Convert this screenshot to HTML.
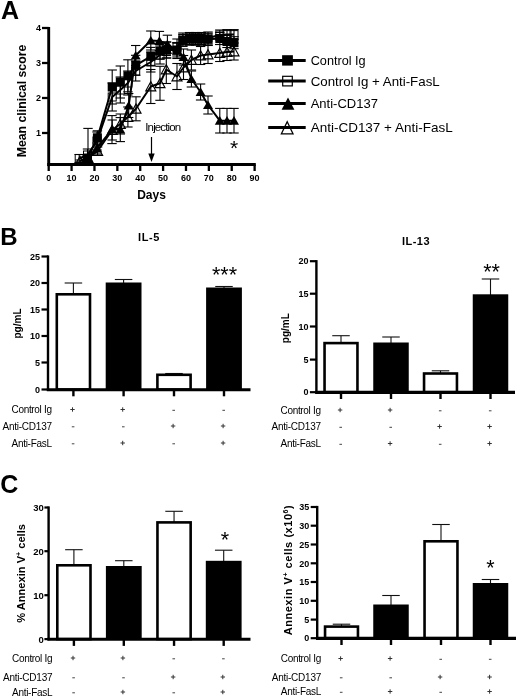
<!DOCTYPE html>
<html><head><meta charset="utf-8"><title>Figure</title>
<style>
html,body{margin:0;padding:0;background:#fff;}
svg{display:block;font-family:"Liberation Sans", Arial, Helvetica, sans-serif;fill:#000;}
</style></head><body>
<svg width="520" height="697" viewBox="0 0 520 697">
<rect width="520" height="697" fill="#fff"/>
<text x="1" y="19.4" font-size="25" font-weight="bold">A</text>
<line x1="48.7" y1="27" x2="48.7" y2="166.1" stroke="#000" stroke-width="2.9" stroke-linecap="butt"/>
<line x1="47.25" y1="164.6" x2="255.8" y2="164.6" stroke="#000" stroke-width="3" stroke-linecap="butt"/>
<line x1="42" y1="28" x2="48.7" y2="28" stroke="#000" stroke-width="2.3" stroke-linecap="butt"/>
<text x="41" y="31.2" font-size="9" font-weight="bold" text-anchor="end">4</text>
<line x1="42" y1="63" x2="48.7" y2="63" stroke="#000" stroke-width="2.3" stroke-linecap="butt"/>
<text x="41" y="66.2" font-size="9" font-weight="bold" text-anchor="end">3</text>
<line x1="42" y1="98" x2="48.7" y2="98" stroke="#000" stroke-width="2.3" stroke-linecap="butt"/>
<text x="41" y="101.2" font-size="9" font-weight="bold" text-anchor="end">2</text>
<line x1="42" y1="133" x2="48.7" y2="133" stroke="#000" stroke-width="2.3" stroke-linecap="butt"/>
<text x="41" y="136.2" font-size="9" font-weight="bold" text-anchor="end">1</text>
<line x1="48.7" y1="164.6" x2="48.7" y2="171" stroke="#000" stroke-width="2.3" stroke-linecap="butt"/>
<text x="48.7" y="180.7" font-size="9" font-weight="bold" text-anchor="middle">0</text>
<line x1="71.58" y1="164.6" x2="71.58" y2="171" stroke="#000" stroke-width="2.3" stroke-linecap="butt"/>
<text x="71.58" y="180.7" font-size="9" font-weight="bold" text-anchor="middle">10</text>
<line x1="94.46000000000001" y1="164.6" x2="94.46000000000001" y2="171" stroke="#000" stroke-width="2.3" stroke-linecap="butt"/>
<text x="94.46000000000001" y="180.7" font-size="9" font-weight="bold" text-anchor="middle">20</text>
<line x1="117.34" y1="164.6" x2="117.34" y2="171" stroke="#000" stroke-width="2.3" stroke-linecap="butt"/>
<text x="117.34" y="180.7" font-size="9" font-weight="bold" text-anchor="middle">30</text>
<line x1="140.22" y1="164.6" x2="140.22" y2="171" stroke="#000" stroke-width="2.3" stroke-linecap="butt"/>
<text x="140.22" y="180.7" font-size="9" font-weight="bold" text-anchor="middle">40</text>
<line x1="163.1" y1="164.6" x2="163.1" y2="171" stroke="#000" stroke-width="2.3" stroke-linecap="butt"/>
<text x="163.1" y="180.7" font-size="9" font-weight="bold" text-anchor="middle">50</text>
<line x1="185.98000000000002" y1="164.6" x2="185.98000000000002" y2="171" stroke="#000" stroke-width="2.3" stroke-linecap="butt"/>
<text x="185.98000000000002" y="180.7" font-size="9" font-weight="bold" text-anchor="middle">60</text>
<line x1="208.86" y1="164.6" x2="208.86" y2="171" stroke="#000" stroke-width="2.3" stroke-linecap="butt"/>
<text x="208.86" y="180.7" font-size="9" font-weight="bold" text-anchor="middle">70</text>
<line x1="231.74" y1="164.6" x2="231.74" y2="171" stroke="#000" stroke-width="2.3" stroke-linecap="butt"/>
<text x="231.74" y="180.7" font-size="9" font-weight="bold" text-anchor="middle">80</text>
<line x1="254.62" y1="164.6" x2="254.62" y2="171" stroke="#000" stroke-width="2.3" stroke-linecap="butt"/>
<text x="254.62" y="180.7" font-size="9" font-weight="bold" text-anchor="middle">90</text>
<text x="151.5" y="199" font-size="12" font-weight="bold" text-anchor="middle">Days</text>
<text x="25.5" y="101" font-size="12" font-weight="bold" text-anchor="middle" textLength="112.5" lengthAdjust="spacingAndGlyphs" transform="rotate(-90 25.5 101)">Mean clinical score</text>
<line x1="80" y1="160" x2="80" y2="162" stroke="#000" stroke-width="1.1" stroke-linecap="butt"/>
<line x1="75.3" y1="160" x2="84.7" y2="160" stroke="#000" stroke-width="1.1" stroke-linecap="butt"/>
<line x1="75.3" y1="162" x2="84.7" y2="162" stroke="#000" stroke-width="1.1" stroke-linecap="butt"/>
<line x1="88" y1="128.4" x2="88" y2="163.1" stroke="#000" stroke-width="1.1" stroke-linecap="butt"/>
<line x1="83.3" y1="128.4" x2="92.7" y2="128.4" stroke="#000" stroke-width="1.1" stroke-linecap="butt"/>
<line x1="97.6" y1="147" x2="97.6" y2="155" stroke="#000" stroke-width="1.1" stroke-linecap="butt"/>
<line x1="92.89999999999999" y1="147" x2="102.3" y2="147" stroke="#000" stroke-width="1.1" stroke-linecap="butt"/>
<line x1="92.89999999999999" y1="155" x2="102.3" y2="155" stroke="#000" stroke-width="1.1" stroke-linecap="butt"/>
<line x1="112.2" y1="120" x2="112.2" y2="140" stroke="#000" stroke-width="1.1" stroke-linecap="butt"/>
<line x1="107.5" y1="120" x2="116.9" y2="120" stroke="#000" stroke-width="1.1" stroke-linecap="butt"/>
<line x1="107.5" y1="140" x2="116.9" y2="140" stroke="#000" stroke-width="1.1" stroke-linecap="butt"/>
<line x1="120.3" y1="114" x2="120.3" y2="134" stroke="#000" stroke-width="1.1" stroke-linecap="butt"/>
<line x1="115.6" y1="114" x2="125.0" y2="114" stroke="#000" stroke-width="1.1" stroke-linecap="butt"/>
<line x1="115.6" y1="134" x2="125.0" y2="134" stroke="#000" stroke-width="1.1" stroke-linecap="butt"/>
<line x1="127.9" y1="107" x2="127.9" y2="127" stroke="#000" stroke-width="1.1" stroke-linecap="butt"/>
<line x1="123.2" y1="107" x2="132.6" y2="107" stroke="#000" stroke-width="1.1" stroke-linecap="butt"/>
<line x1="123.2" y1="127" x2="132.6" y2="127" stroke="#000" stroke-width="1.1" stroke-linecap="butt"/>
<line x1="136" y1="96.8" x2="136" y2="120.8" stroke="#000" stroke-width="1.1" stroke-linecap="butt"/>
<line x1="131.3" y1="96.8" x2="140.7" y2="96.8" stroke="#000" stroke-width="1.1" stroke-linecap="butt"/>
<line x1="131.3" y1="120.8" x2="140.7" y2="120.8" stroke="#000" stroke-width="1.1" stroke-linecap="butt"/>
<line x1="150.8" y1="69.5" x2="150.8" y2="103.5" stroke="#000" stroke-width="1.1" stroke-linecap="butt"/>
<line x1="146.10000000000002" y1="69.5" x2="155.5" y2="69.5" stroke="#000" stroke-width="1.1" stroke-linecap="butt"/>
<line x1="146.10000000000002" y1="103.5" x2="155.5" y2="103.5" stroke="#000" stroke-width="1.1" stroke-linecap="butt"/>
<line x1="160" y1="66.3" x2="160" y2="100.3" stroke="#000" stroke-width="1.1" stroke-linecap="butt"/>
<line x1="155.3" y1="66.3" x2="164.7" y2="66.3" stroke="#000" stroke-width="1.1" stroke-linecap="butt"/>
<line x1="155.3" y1="100.3" x2="164.7" y2="100.3" stroke="#000" stroke-width="1.1" stroke-linecap="butt"/>
<line x1="166.3" y1="55.5" x2="166.3" y2="83.5" stroke="#000" stroke-width="1.1" stroke-linecap="butt"/>
<line x1="161.60000000000002" y1="55.5" x2="171.0" y2="55.5" stroke="#000" stroke-width="1.1" stroke-linecap="butt"/>
<line x1="161.60000000000002" y1="83.5" x2="171.0" y2="83.5" stroke="#000" stroke-width="1.1" stroke-linecap="butt"/>
<line x1="177" y1="63.5" x2="177" y2="89.5" stroke="#000" stroke-width="1.1" stroke-linecap="butt"/>
<line x1="172.3" y1="63.5" x2="181.7" y2="63.5" stroke="#000" stroke-width="1.1" stroke-linecap="butt"/>
<line x1="172.3" y1="89.5" x2="181.7" y2="89.5" stroke="#000" stroke-width="1.1" stroke-linecap="butt"/>
<line x1="183.5" y1="55.5" x2="183.5" y2="79.5" stroke="#000" stroke-width="1.1" stroke-linecap="butt"/>
<line x1="178.8" y1="55.5" x2="188.2" y2="55.5" stroke="#000" stroke-width="1.1" stroke-linecap="butt"/>
<line x1="178.8" y1="79.5" x2="188.2" y2="79.5" stroke="#000" stroke-width="1.1" stroke-linecap="butt"/>
<line x1="191.4" y1="50" x2="191.4" y2="70" stroke="#000" stroke-width="1.1" stroke-linecap="butt"/>
<line x1="186.70000000000002" y1="50" x2="196.1" y2="50" stroke="#000" stroke-width="1.1" stroke-linecap="butt"/>
<line x1="186.70000000000002" y1="70" x2="196.1" y2="70" stroke="#000" stroke-width="1.1" stroke-linecap="butt"/>
<line x1="200.6" y1="46.5" x2="200.6" y2="64.5" stroke="#000" stroke-width="1.1" stroke-linecap="butt"/>
<line x1="195.9" y1="46.5" x2="205.29999999999998" y2="46.5" stroke="#000" stroke-width="1.1" stroke-linecap="butt"/>
<line x1="195.9" y1="64.5" x2="205.29999999999998" y2="64.5" stroke="#000" stroke-width="1.1" stroke-linecap="butt"/>
<line x1="208" y1="45.5" x2="208" y2="63.5" stroke="#000" stroke-width="1.1" stroke-linecap="butt"/>
<line x1="203.3" y1="45.5" x2="212.7" y2="45.5" stroke="#000" stroke-width="1.1" stroke-linecap="butt"/>
<line x1="203.3" y1="63.5" x2="212.7" y2="63.5" stroke="#000" stroke-width="1.1" stroke-linecap="butt"/>
<line x1="219.8" y1="44.5" x2="219.8" y2="61.5" stroke="#000" stroke-width="1.1" stroke-linecap="butt"/>
<line x1="215.10000000000002" y1="44.5" x2="224.5" y2="44.5" stroke="#000" stroke-width="1.1" stroke-linecap="butt"/>
<line x1="215.10000000000002" y1="61.5" x2="224.5" y2="61.5" stroke="#000" stroke-width="1.1" stroke-linecap="butt"/>
<line x1="227" y1="43.5" x2="227" y2="60.5" stroke="#000" stroke-width="1.1" stroke-linecap="butt"/>
<line x1="222.3" y1="43.5" x2="231.7" y2="43.5" stroke="#000" stroke-width="1.1" stroke-linecap="butt"/>
<line x1="222.3" y1="60.5" x2="231.7" y2="60.5" stroke="#000" stroke-width="1.1" stroke-linecap="butt"/>
<line x1="234" y1="43.0" x2="234" y2="60.0" stroke="#000" stroke-width="1.1" stroke-linecap="butt"/>
<line x1="229.3" y1="43.0" x2="238.7" y2="43.0" stroke="#000" stroke-width="1.1" stroke-linecap="butt"/>
<line x1="229.3" y1="60.0" x2="238.7" y2="60.0" stroke="#000" stroke-width="1.1" stroke-linecap="butt"/>
<path d="M80,161 L88,158 L97.6,151 L112.2,130 L120.3,124 L127.9,117 L136,108.8 L150.8,86.5 L160,83.3 L166.3,69.5 L177,76.5 L183.5,67.5 L191.4,60 L200.6,55.5 L208,54.5 L219.8,53 L227,52 L234,51.5" fill="none" stroke="#000" stroke-width="2" stroke-linejoin="round"/>
<path d="M80,156.20000000000002 L85,165.3 L75,165.3Z" fill="none" stroke="#000" stroke-width="1.15"/>
<path d="M88,153.20000000000002 L93,162.3 L83,162.3Z" fill="none" stroke="#000" stroke-width="1.15"/>
<path d="M97.6,146.20000000000002 L102.6,155.3 L92.6,155.3Z" fill="none" stroke="#000" stroke-width="1.15"/>
<path d="M112.2,125.2 L117.2,134.3 L107.2,134.3Z" fill="none" stroke="#000" stroke-width="1.15"/>
<path d="M120.3,119.2 L125.3,128.3 L115.3,128.3Z" fill="none" stroke="#000" stroke-width="1.15"/>
<path d="M127.9,112.2 L132.9,121.3 L122.9,121.3Z" fill="none" stroke="#000" stroke-width="1.15"/>
<path d="M136,104.0 L141,113.1 L131,113.1Z" fill="none" stroke="#000" stroke-width="1.15"/>
<path d="M150.8,81.7 L155.8,90.8 L145.8,90.8Z" fill="none" stroke="#000" stroke-width="1.15"/>
<path d="M160,78.5 L165,87.6 L155,87.6Z" fill="none" stroke="#000" stroke-width="1.15"/>
<path d="M166.3,64.7 L171.3,73.8 L161.3,73.8Z" fill="none" stroke="#000" stroke-width="1.15"/>
<path d="M177,71.7 L182,80.8 L172,80.8Z" fill="none" stroke="#000" stroke-width="1.15"/>
<path d="M183.5,62.699999999999996 L188.5,71.8 L178.5,71.8Z" fill="none" stroke="#000" stroke-width="1.15"/>
<path d="M191.4,55.199999999999996 L196.4,64.3 L186.4,64.3Z" fill="none" stroke="#000" stroke-width="1.15"/>
<path d="M200.6,50.699999999999996 L205.6,59.8 L195.6,59.8Z" fill="none" stroke="#000" stroke-width="1.15"/>
<path d="M208,49.699999999999996 L213,58.8 L203,58.8Z" fill="none" stroke="#000" stroke-width="1.15"/>
<path d="M219.8,48.199999999999996 L224.8,57.3 L214.8,57.3Z" fill="none" stroke="#000" stroke-width="1.15"/>
<path d="M227,47.199999999999996 L232,56.3 L222,56.3Z" fill="none" stroke="#000" stroke-width="1.15"/>
<path d="M234,46.699999999999996 L239,55.8 L229,55.8Z" fill="none" stroke="#000" stroke-width="1.15"/>
<line x1="79.2" y1="154.5" x2="79.2" y2="162.5" stroke="#000" stroke-width="1.1" stroke-linecap="butt"/>
<line x1="74.5" y1="154.5" x2="83.9" y2="154.5" stroke="#000" stroke-width="1.1" stroke-linecap="butt"/>
<line x1="74.5" y1="162.5" x2="83.9" y2="162.5" stroke="#000" stroke-width="1.1" stroke-linecap="butt"/>
<line x1="87.5" y1="149" x2="87.5" y2="161" stroke="#000" stroke-width="1.1" stroke-linecap="butt"/>
<line x1="82.8" y1="149" x2="92.2" y2="149" stroke="#000" stroke-width="1.1" stroke-linecap="butt"/>
<line x1="82.8" y1="161" x2="92.2" y2="161" stroke="#000" stroke-width="1.1" stroke-linecap="butt"/>
<line x1="97" y1="132" x2="97" y2="150" stroke="#000" stroke-width="1.1" stroke-linecap="butt"/>
<line x1="92.3" y1="132" x2="101.7" y2="132" stroke="#000" stroke-width="1.1" stroke-linecap="butt"/>
<line x1="92.3" y1="150" x2="101.7" y2="150" stroke="#000" stroke-width="1.1" stroke-linecap="butt"/>
<line x1="112.2" y1="83" x2="112.2" y2="111" stroke="#000" stroke-width="1.1" stroke-linecap="butt"/>
<line x1="107.5" y1="83" x2="116.9" y2="83" stroke="#000" stroke-width="1.1" stroke-linecap="butt"/>
<line x1="107.5" y1="111" x2="116.9" y2="111" stroke="#000" stroke-width="1.1" stroke-linecap="butt"/>
<line x1="120.3" y1="77" x2="120.3" y2="103" stroke="#000" stroke-width="1.1" stroke-linecap="butt"/>
<line x1="115.6" y1="77" x2="125.0" y2="77" stroke="#000" stroke-width="1.1" stroke-linecap="butt"/>
<line x1="115.6" y1="103" x2="125.0" y2="103" stroke="#000" stroke-width="1.1" stroke-linecap="butt"/>
<line x1="127.9" y1="71" x2="127.9" y2="95" stroke="#000" stroke-width="1.1" stroke-linecap="butt"/>
<line x1="123.2" y1="71" x2="132.6" y2="71" stroke="#000" stroke-width="1.1" stroke-linecap="butt"/>
<line x1="123.2" y1="95" x2="132.6" y2="95" stroke="#000" stroke-width="1.1" stroke-linecap="butt"/>
<line x1="135.7" y1="61" x2="135.7" y2="81" stroke="#000" stroke-width="1.1" stroke-linecap="butt"/>
<line x1="131.0" y1="61" x2="140.39999999999998" y2="61" stroke="#000" stroke-width="1.1" stroke-linecap="butt"/>
<line x1="131.0" y1="81" x2="140.39999999999998" y2="81" stroke="#000" stroke-width="1.1" stroke-linecap="butt"/>
<line x1="150.8" y1="52" x2="150.8" y2="72" stroke="#000" stroke-width="1.1" stroke-linecap="butt"/>
<line x1="146.10000000000002" y1="52" x2="155.5" y2="52" stroke="#000" stroke-width="1.1" stroke-linecap="butt"/>
<line x1="146.10000000000002" y1="72" x2="155.5" y2="72" stroke="#000" stroke-width="1.1" stroke-linecap="butt"/>
<line x1="160" y1="46" x2="160" y2="64" stroke="#000" stroke-width="1.1" stroke-linecap="butt"/>
<line x1="155.3" y1="46" x2="164.7" y2="46" stroke="#000" stroke-width="1.1" stroke-linecap="butt"/>
<line x1="155.3" y1="64" x2="164.7" y2="64" stroke="#000" stroke-width="1.1" stroke-linecap="butt"/>
<line x1="166.5" y1="42" x2="166.5" y2="58" stroke="#000" stroke-width="1.1" stroke-linecap="butt"/>
<line x1="161.8" y1="42" x2="171.2" y2="42" stroke="#000" stroke-width="1.1" stroke-linecap="butt"/>
<line x1="161.8" y1="58" x2="171.2" y2="58" stroke="#000" stroke-width="1.1" stroke-linecap="butt"/>
<line x1="177" y1="39" x2="177" y2="55" stroke="#000" stroke-width="1.1" stroke-linecap="butt"/>
<line x1="172.3" y1="39" x2="181.7" y2="39" stroke="#000" stroke-width="1.1" stroke-linecap="butt"/>
<line x1="172.3" y1="55" x2="181.7" y2="55" stroke="#000" stroke-width="1.1" stroke-linecap="butt"/>
<line x1="182.9" y1="33" x2="182.9" y2="45" stroke="#000" stroke-width="1.1" stroke-linecap="butt"/>
<line x1="178.20000000000002" y1="33" x2="187.6" y2="33" stroke="#000" stroke-width="1.1" stroke-linecap="butt"/>
<line x1="178.20000000000002" y1="45" x2="187.6" y2="45" stroke="#000" stroke-width="1.1" stroke-linecap="butt"/>
<line x1="189.6" y1="32.5" x2="189.6" y2="44.5" stroke="#000" stroke-width="1.1" stroke-linecap="butt"/>
<line x1="184.9" y1="32.5" x2="194.29999999999998" y2="32.5" stroke="#000" stroke-width="1.1" stroke-linecap="butt"/>
<line x1="184.9" y1="44.5" x2="194.29999999999998" y2="44.5" stroke="#000" stroke-width="1.1" stroke-linecap="butt"/>
<line x1="195.4" y1="32.5" x2="195.4" y2="44.5" stroke="#000" stroke-width="1.1" stroke-linecap="butt"/>
<line x1="190.70000000000002" y1="32.5" x2="200.1" y2="32.5" stroke="#000" stroke-width="1.1" stroke-linecap="butt"/>
<line x1="190.70000000000002" y1="44.5" x2="200.1" y2="44.5" stroke="#000" stroke-width="1.1" stroke-linecap="butt"/>
<line x1="201.2" y1="32.5" x2="201.2" y2="44.5" stroke="#000" stroke-width="1.1" stroke-linecap="butt"/>
<line x1="196.5" y1="32.5" x2="205.89999999999998" y2="32.5" stroke="#000" stroke-width="1.1" stroke-linecap="butt"/>
<line x1="196.5" y1="44.5" x2="205.89999999999998" y2="44.5" stroke="#000" stroke-width="1.1" stroke-linecap="butt"/>
<line x1="208" y1="32" x2="208" y2="44" stroke="#000" stroke-width="1.1" stroke-linecap="butt"/>
<line x1="203.3" y1="32" x2="212.7" y2="32" stroke="#000" stroke-width="1.1" stroke-linecap="butt"/>
<line x1="203.3" y1="44" x2="212.7" y2="44" stroke="#000" stroke-width="1.1" stroke-linecap="butt"/>
<line x1="219.8" y1="30" x2="219.8" y2="40" stroke="#000" stroke-width="1.1" stroke-linecap="butt"/>
<line x1="215.10000000000002" y1="30" x2="224.5" y2="30" stroke="#000" stroke-width="1.1" stroke-linecap="butt"/>
<line x1="215.10000000000002" y1="40" x2="224.5" y2="40" stroke="#000" stroke-width="1.1" stroke-linecap="butt"/>
<line x1="227" y1="29.6" x2="227" y2="39.6" stroke="#000" stroke-width="1.1" stroke-linecap="butt"/>
<line x1="222.3" y1="29.6" x2="231.7" y2="29.6" stroke="#000" stroke-width="1.1" stroke-linecap="butt"/>
<line x1="222.3" y1="39.6" x2="231.7" y2="39.6" stroke="#000" stroke-width="1.1" stroke-linecap="butt"/>
<line x1="234" y1="29.6" x2="234" y2="39.6" stroke="#000" stroke-width="1.1" stroke-linecap="butt"/>
<line x1="229.3" y1="29.6" x2="238.7" y2="29.6" stroke="#000" stroke-width="1.1" stroke-linecap="butt"/>
<line x1="229.3" y1="39.6" x2="238.7" y2="39.6" stroke="#000" stroke-width="1.1" stroke-linecap="butt"/>
<path d="M79.2,158.5 L87.5,155 L97,141 L112.2,97 L120.3,90 L127.9,83 L135.7,71 L150.8,62 L160,55 L166.5,50 L177,47 L182.9,39 L189.6,38.5 L195.4,38.5 L201.2,38.5 L208,38 L219.8,35 L227,34.6 L234,34.6" fill="none" stroke="#000" stroke-width="2" stroke-linejoin="round"/>
<rect x="75.2" y="154.5" width="8.0" height="8.0" fill="none" stroke="#000" stroke-width="1"/>
<rect x="83.5" y="151.0" width="8.0" height="8.0" fill="none" stroke="#000" stroke-width="1"/>
<rect x="93.0" y="137.0" width="8.0" height="8.0" fill="none" stroke="#000" stroke-width="1"/>
<rect x="108.2" y="93.0" width="8.0" height="8.0" fill="none" stroke="#000" stroke-width="1"/>
<rect x="116.3" y="86.0" width="8.0" height="8.0" fill="none" stroke="#000" stroke-width="1"/>
<rect x="123.9" y="79.0" width="8.0" height="8.0" fill="none" stroke="#000" stroke-width="1"/>
<rect x="131.7" y="67.0" width="8.0" height="8.0" fill="none" stroke="#000" stroke-width="1"/>
<rect x="146.8" y="58.0" width="8.0" height="8.0" fill="none" stroke="#000" stroke-width="1"/>
<rect x="156.0" y="51.0" width="8.0" height="8.0" fill="none" stroke="#000" stroke-width="1"/>
<rect x="162.5" y="46.0" width="8.0" height="8.0" fill="none" stroke="#000" stroke-width="1"/>
<rect x="173.0" y="43.0" width="8.0" height="8.0" fill="none" stroke="#000" stroke-width="1"/>
<rect x="178.9" y="35.0" width="8.0" height="8.0" fill="none" stroke="#000" stroke-width="1"/>
<rect x="185.6" y="34.5" width="8.0" height="8.0" fill="none" stroke="#000" stroke-width="1"/>
<rect x="191.4" y="34.5" width="8.0" height="8.0" fill="none" stroke="#000" stroke-width="1"/>
<rect x="197.2" y="34.5" width="8.0" height="8.0" fill="none" stroke="#000" stroke-width="1"/>
<rect x="204.0" y="34.0" width="8.0" height="8.0" fill="none" stroke="#000" stroke-width="1"/>
<rect x="215.8" y="31.0" width="8.0" height="8.0" fill="none" stroke="#000" stroke-width="1"/>
<rect x="223.0" y="30.6" width="8.0" height="8.0" fill="none" stroke="#000" stroke-width="1"/>
<rect x="230.0" y="30.6" width="8.0" height="8.0" fill="none" stroke="#000" stroke-width="1"/>
<line x1="87.5" y1="155.5" x2="87.5" y2="161.5" stroke="#000" stroke-width="1.1" stroke-linecap="butt"/>
<line x1="82.8" y1="155.5" x2="92.2" y2="155.5" stroke="#000" stroke-width="1.1" stroke-linecap="butt"/>
<line x1="82.8" y1="161.5" x2="92.2" y2="161.5" stroke="#000" stroke-width="1.1" stroke-linecap="butt"/>
<line x1="97" y1="143" x2="97" y2="153" stroke="#000" stroke-width="1.1" stroke-linecap="butt"/>
<line x1="92.3" y1="143" x2="101.7" y2="143" stroke="#000" stroke-width="1.1" stroke-linecap="butt"/>
<line x1="92.3" y1="153" x2="101.7" y2="153" stroke="#000" stroke-width="1.1" stroke-linecap="butt"/>
<line x1="112" y1="115.6" x2="112" y2="143.6" stroke="#000" stroke-width="1.1" stroke-linecap="butt"/>
<line x1="107.3" y1="115.6" x2="116.7" y2="115.6" stroke="#000" stroke-width="1.1" stroke-linecap="butt"/>
<line x1="107.3" y1="143.6" x2="116.7" y2="143.6" stroke="#000" stroke-width="1.1" stroke-linecap="butt"/>
<line x1="120.3" y1="117.6" x2="120.3" y2="141.6" stroke="#000" stroke-width="1.1" stroke-linecap="butt"/>
<line x1="115.6" y1="117.6" x2="125.0" y2="117.6" stroke="#000" stroke-width="1.1" stroke-linecap="butt"/>
<line x1="115.6" y1="141.6" x2="125.0" y2="141.6" stroke="#000" stroke-width="1.1" stroke-linecap="butt"/>
<line x1="128.7" y1="93.5" x2="128.7" y2="117.5" stroke="#000" stroke-width="1.1" stroke-linecap="butt"/>
<line x1="123.99999999999999" y1="93.5" x2="133.39999999999998" y2="93.5" stroke="#000" stroke-width="1.1" stroke-linecap="butt"/>
<line x1="123.99999999999999" y1="117.5" x2="133.39999999999998" y2="117.5" stroke="#000" stroke-width="1.1" stroke-linecap="butt"/>
<line x1="135.7" y1="45.5" x2="135.7" y2="65.5" stroke="#000" stroke-width="1.1" stroke-linecap="butt"/>
<line x1="131.0" y1="45.5" x2="140.39999999999998" y2="45.5" stroke="#000" stroke-width="1.1" stroke-linecap="butt"/>
<line x1="131.0" y1="65.5" x2="140.39999999999998" y2="65.5" stroke="#000" stroke-width="1.1" stroke-linecap="butt"/>
<line x1="150.8" y1="31.0" x2="150.8" y2="50.0" stroke="#000" stroke-width="1.1" stroke-linecap="butt"/>
<line x1="146.10000000000002" y1="31.0" x2="155.5" y2="31.0" stroke="#000" stroke-width="1.1" stroke-linecap="butt"/>
<line x1="146.10000000000002" y1="50.0" x2="155.5" y2="50.0" stroke="#000" stroke-width="1.1" stroke-linecap="butt"/>
<line x1="159.4" y1="31.4" x2="159.4" y2="50.4" stroke="#000" stroke-width="1.1" stroke-linecap="butt"/>
<line x1="154.70000000000002" y1="31.4" x2="164.1" y2="31.4" stroke="#000" stroke-width="1.1" stroke-linecap="butt"/>
<line x1="154.70000000000002" y1="50.4" x2="164.1" y2="50.4" stroke="#000" stroke-width="1.1" stroke-linecap="butt"/>
<line x1="167.4" y1="35.2" x2="167.4" y2="53.2" stroke="#000" stroke-width="1.1" stroke-linecap="butt"/>
<line x1="162.70000000000002" y1="35.2" x2="172.1" y2="35.2" stroke="#000" stroke-width="1.1" stroke-linecap="butt"/>
<line x1="162.70000000000002" y1="53.2" x2="172.1" y2="53.2" stroke="#000" stroke-width="1.1" stroke-linecap="butt"/>
<line x1="177" y1="42.5" x2="177" y2="58.5" stroke="#000" stroke-width="1.1" stroke-linecap="butt"/>
<line x1="172.3" y1="42.5" x2="181.7" y2="42.5" stroke="#000" stroke-width="1.1" stroke-linecap="butt"/>
<line x1="172.3" y1="58.5" x2="181.7" y2="58.5" stroke="#000" stroke-width="1.1" stroke-linecap="butt"/>
<line x1="183.5" y1="49" x2="183.5" y2="65" stroke="#000" stroke-width="1.1" stroke-linecap="butt"/>
<line x1="178.8" y1="49" x2="188.2" y2="49" stroke="#000" stroke-width="1.1" stroke-linecap="butt"/>
<line x1="178.8" y1="65" x2="188.2" y2="65" stroke="#000" stroke-width="1.1" stroke-linecap="butt"/>
<line x1="191.4" y1="71" x2="191.4" y2="87" stroke="#000" stroke-width="1.1" stroke-linecap="butt"/>
<line x1="186.70000000000002" y1="71" x2="196.1" y2="71" stroke="#000" stroke-width="1.1" stroke-linecap="butt"/>
<line x1="186.70000000000002" y1="87" x2="196.1" y2="87" stroke="#000" stroke-width="1.1" stroke-linecap="butt"/>
<line x1="200.6" y1="84" x2="200.6" y2="100" stroke="#000" stroke-width="1.1" stroke-linecap="butt"/>
<line x1="195.9" y1="84" x2="205.29999999999998" y2="84" stroke="#000" stroke-width="1.1" stroke-linecap="butt"/>
<line x1="195.9" y1="100" x2="205.29999999999998" y2="100" stroke="#000" stroke-width="1.1" stroke-linecap="butt"/>
<line x1="208" y1="96" x2="208" y2="114" stroke="#000" stroke-width="1.1" stroke-linecap="butt"/>
<line x1="203.3" y1="96" x2="212.7" y2="96" stroke="#000" stroke-width="1.1" stroke-linecap="butt"/>
<line x1="203.3" y1="114" x2="212.7" y2="114" stroke="#000" stroke-width="1.1" stroke-linecap="butt"/>
<line x1="219.8" y1="108.4" x2="219.8" y2="133.0" stroke="#000" stroke-width="1.1" stroke-linecap="butt"/>
<line x1="215.10000000000002" y1="108.4" x2="224.5" y2="108.4" stroke="#000" stroke-width="1.1" stroke-linecap="butt"/>
<line x1="215.10000000000002" y1="133.0" x2="224.5" y2="133.0" stroke="#000" stroke-width="1.1" stroke-linecap="butt"/>
<line x1="227" y1="108.4" x2="227" y2="133.0" stroke="#000" stroke-width="1.1" stroke-linecap="butt"/>
<line x1="222.3" y1="108.4" x2="231.7" y2="108.4" stroke="#000" stroke-width="1.1" stroke-linecap="butt"/>
<line x1="222.3" y1="133.0" x2="231.7" y2="133.0" stroke="#000" stroke-width="1.1" stroke-linecap="butt"/>
<line x1="234" y1="108.4" x2="234" y2="133.0" stroke="#000" stroke-width="1.1" stroke-linecap="butt"/>
<line x1="229.3" y1="108.4" x2="238.7" y2="108.4" stroke="#000" stroke-width="1.1" stroke-linecap="butt"/>
<line x1="229.3" y1="133.0" x2="238.7" y2="133.0" stroke="#000" stroke-width="1.1" stroke-linecap="butt"/>
<path d="M87.5,158.5 L97,148 L112,129.6 L120.3,129.6 L128.7,105.5 L135.7,55.5 L150.8,40.5 L159.4,40.9 L167.4,44.2 L177,50.5 L183.5,57 L191.4,79 L200.6,92 L208,105 L219.8,120.7 L227,120.7 L234,120.7" fill="none" stroke="#000" stroke-width="2" stroke-linejoin="round"/>
<path d="M87.5,153.9 L92.5,162.5 L82.5,162.5Z" fill="#000"/>
<path d="M97,143.4 L102,152.0 L92,152.0Z" fill="#000"/>
<path d="M112,125.0 L117,133.6 L107,133.6Z" fill="#000"/>
<path d="M120.3,125.0 L125.3,133.6 L115.3,133.6Z" fill="#000"/>
<path d="M128.7,100.9 L133.7,109.5 L123.69999999999999,109.5Z" fill="#000"/>
<path d="M135.7,50.9 L140.7,59.5 L130.7,59.5Z" fill="#000"/>
<path d="M150.8,35.9 L155.8,44.5 L145.8,44.5Z" fill="#000"/>
<path d="M159.4,36.3 L164.4,44.9 L154.4,44.9Z" fill="#000"/>
<path d="M167.4,39.6 L172.4,48.2 L162.4,48.2Z" fill="#000"/>
<path d="M177,45.9 L182,54.5 L172,54.5Z" fill="#000"/>
<path d="M183.5,52.4 L188.5,61.0 L178.5,61.0Z" fill="#000"/>
<path d="M191.4,74.4 L196.4,83.0 L186.4,83.0Z" fill="#000"/>
<path d="M200.6,87.4 L205.6,96.0 L195.6,96.0Z" fill="#000"/>
<path d="M208,100.4 L213,109.0 L203,109.0Z" fill="#000"/>
<path d="M219.8,116.10000000000001 L224.8,124.7 L214.8,124.7Z" fill="#000"/>
<path d="M227,116.10000000000001 L232,124.7 L222,124.7Z" fill="#000"/>
<path d="M234,116.10000000000001 L239,124.7 L229,124.7Z" fill="#000"/>
<line x1="87.5" y1="155" x2="87.5" y2="161" stroke="#000" stroke-width="1.1" stroke-linecap="butt"/>
<line x1="82.8" y1="155" x2="92.2" y2="155" stroke="#000" stroke-width="1.1" stroke-linecap="butt"/>
<line x1="82.8" y1="161" x2="92.2" y2="161" stroke="#000" stroke-width="1.1" stroke-linecap="butt"/>
<line x1="97.4" y1="130.8" x2="97.4" y2="144.8" stroke="#000" stroke-width="1.1" stroke-linecap="butt"/>
<line x1="92.7" y1="130.8" x2="102.10000000000001" y2="130.8" stroke="#000" stroke-width="1.1" stroke-linecap="butt"/>
<line x1="92.7" y1="144.8" x2="102.10000000000001" y2="144.8" stroke="#000" stroke-width="1.1" stroke-linecap="butt"/>
<line x1="112.2" y1="70" x2="112.2" y2="104" stroke="#000" stroke-width="1.1" stroke-linecap="butt"/>
<line x1="107.5" y1="70" x2="116.9" y2="70" stroke="#000" stroke-width="1.1" stroke-linecap="butt"/>
<line x1="107.5" y1="104" x2="116.9" y2="104" stroke="#000" stroke-width="1.1" stroke-linecap="butt"/>
<line x1="120.3" y1="66" x2="120.3" y2="98" stroke="#000" stroke-width="1.1" stroke-linecap="butt"/>
<line x1="115.6" y1="66" x2="125.0" y2="66" stroke="#000" stroke-width="1.1" stroke-linecap="butt"/>
<line x1="115.6" y1="98" x2="125.0" y2="98" stroke="#000" stroke-width="1.1" stroke-linecap="butt"/>
<line x1="127.9" y1="59.8" x2="127.9" y2="91.8" stroke="#000" stroke-width="1.1" stroke-linecap="butt"/>
<line x1="123.2" y1="59.8" x2="132.6" y2="59.8" stroke="#000" stroke-width="1.1" stroke-linecap="butt"/>
<line x1="123.2" y1="91.8" x2="132.6" y2="91.8" stroke="#000" stroke-width="1.1" stroke-linecap="butt"/>
<line x1="135.7" y1="55.3" x2="135.7" y2="75.3" stroke="#000" stroke-width="1.1" stroke-linecap="butt"/>
<line x1="131.0" y1="55.3" x2="140.39999999999998" y2="55.3" stroke="#000" stroke-width="1.1" stroke-linecap="butt"/>
<line x1="131.0" y1="75.3" x2="140.39999999999998" y2="75.3" stroke="#000" stroke-width="1.1" stroke-linecap="butt"/>
<line x1="150.8" y1="47.4" x2="150.8" y2="65.4" stroke="#000" stroke-width="1.1" stroke-linecap="butt"/>
<line x1="146.10000000000002" y1="47.4" x2="155.5" y2="47.4" stroke="#000" stroke-width="1.1" stroke-linecap="butt"/>
<line x1="146.10000000000002" y1="65.4" x2="155.5" y2="65.4" stroke="#000" stroke-width="1.1" stroke-linecap="butt"/>
<line x1="160" y1="43.2" x2="160" y2="59.2" stroke="#000" stroke-width="1.1" stroke-linecap="butt"/>
<line x1="155.3" y1="43.2" x2="164.7" y2="43.2" stroke="#000" stroke-width="1.1" stroke-linecap="butt"/>
<line x1="155.3" y1="59.2" x2="164.7" y2="59.2" stroke="#000" stroke-width="1.1" stroke-linecap="butt"/>
<line x1="166.5" y1="42" x2="166.5" y2="58" stroke="#000" stroke-width="1.1" stroke-linecap="butt"/>
<line x1="161.8" y1="42" x2="171.2" y2="42" stroke="#000" stroke-width="1.1" stroke-linecap="butt"/>
<line x1="161.8" y1="58" x2="171.2" y2="58" stroke="#000" stroke-width="1.1" stroke-linecap="butt"/>
<line x1="177" y1="43" x2="177" y2="57" stroke="#000" stroke-width="1.1" stroke-linecap="butt"/>
<line x1="172.3" y1="43" x2="181.7" y2="43" stroke="#000" stroke-width="1.1" stroke-linecap="butt"/>
<line x1="172.3" y1="57" x2="181.7" y2="57" stroke="#000" stroke-width="1.1" stroke-linecap="butt"/>
<line x1="182.9" y1="34.4" x2="182.9" y2="46.4" stroke="#000" stroke-width="1.1" stroke-linecap="butt"/>
<line x1="178.20000000000002" y1="34.4" x2="187.6" y2="34.4" stroke="#000" stroke-width="1.1" stroke-linecap="butt"/>
<line x1="178.20000000000002" y1="46.4" x2="187.6" y2="46.4" stroke="#000" stroke-width="1.1" stroke-linecap="butt"/>
<line x1="189.6" y1="33.2" x2="189.6" y2="45.2" stroke="#000" stroke-width="1.1" stroke-linecap="butt"/>
<line x1="184.9" y1="33.2" x2="194.29999999999998" y2="33.2" stroke="#000" stroke-width="1.1" stroke-linecap="butt"/>
<line x1="184.9" y1="45.2" x2="194.29999999999998" y2="45.2" stroke="#000" stroke-width="1.1" stroke-linecap="butt"/>
<line x1="195.4" y1="33.2" x2="195.4" y2="45.2" stroke="#000" stroke-width="1.1" stroke-linecap="butt"/>
<line x1="190.70000000000002" y1="33.2" x2="200.1" y2="33.2" stroke="#000" stroke-width="1.1" stroke-linecap="butt"/>
<line x1="190.70000000000002" y1="45.2" x2="200.1" y2="45.2" stroke="#000" stroke-width="1.1" stroke-linecap="butt"/>
<line x1="201.2" y1="33.2" x2="201.2" y2="45.2" stroke="#000" stroke-width="1.1" stroke-linecap="butt"/>
<line x1="196.5" y1="33.2" x2="205.89999999999998" y2="33.2" stroke="#000" stroke-width="1.1" stroke-linecap="butt"/>
<line x1="196.5" y1="45.2" x2="205.89999999999998" y2="45.2" stroke="#000" stroke-width="1.1" stroke-linecap="butt"/>
<line x1="208" y1="33.2" x2="208" y2="45.2" stroke="#000" stroke-width="1.1" stroke-linecap="butt"/>
<line x1="203.3" y1="33.2" x2="212.7" y2="33.2" stroke="#000" stroke-width="1.1" stroke-linecap="butt"/>
<line x1="203.3" y1="45.2" x2="212.7" y2="45.2" stroke="#000" stroke-width="1.1" stroke-linecap="butt"/>
<line x1="219.8" y1="32.5" x2="219.8" y2="44.5" stroke="#000" stroke-width="1.1" stroke-linecap="butt"/>
<line x1="215.10000000000002" y1="32.5" x2="224.5" y2="32.5" stroke="#000" stroke-width="1.1" stroke-linecap="butt"/>
<line x1="215.10000000000002" y1="44.5" x2="224.5" y2="44.5" stroke="#000" stroke-width="1.1" stroke-linecap="butt"/>
<line x1="227" y1="35.5" x2="227" y2="47.5" stroke="#000" stroke-width="1.1" stroke-linecap="butt"/>
<line x1="222.3" y1="35.5" x2="231.7" y2="35.5" stroke="#000" stroke-width="1.1" stroke-linecap="butt"/>
<line x1="222.3" y1="47.5" x2="231.7" y2="47.5" stroke="#000" stroke-width="1.1" stroke-linecap="butt"/>
<line x1="234" y1="36.7" x2="234" y2="48.7" stroke="#000" stroke-width="1.1" stroke-linecap="butt"/>
<line x1="229.3" y1="36.7" x2="238.7" y2="36.7" stroke="#000" stroke-width="1.1" stroke-linecap="butt"/>
<line x1="229.3" y1="48.7" x2="238.7" y2="48.7" stroke="#000" stroke-width="1.1" stroke-linecap="butt"/>
<path d="M87.5,158 L97.4,137.8 L112.2,87 L120.3,82 L127.9,75.8 L135.7,65.3 L150.8,56.4 L160,51.2 L166.5,50 L177,50 L182.9,40.4 L189.6,39.2 L195.4,39.2 L201.2,39.2 L208,39.2 L219.8,38.5 L227,41.5 L234,42.7" fill="none" stroke="#000" stroke-width="2" stroke-linejoin="round"/>
<rect x="83.0" y="153.5" width="9.0" height="9.0" fill="#000"/>
<rect x="92.9" y="133.3" width="9.0" height="9.0" fill="#000"/>
<rect x="107.7" y="82.5" width="9.0" height="9.0" fill="#000"/>
<rect x="115.8" y="77.5" width="9.0" height="9.0" fill="#000"/>
<rect x="123.4" y="71.3" width="9.0" height="9.0" fill="#000"/>
<rect x="131.2" y="60.8" width="9.0" height="9.0" fill="#000"/>
<rect x="146.3" y="51.9" width="9.0" height="9.0" fill="#000"/>
<rect x="155.5" y="46.7" width="9.0" height="9.0" fill="#000"/>
<rect x="162.0" y="45.5" width="9.0" height="9.0" fill="#000"/>
<rect x="172.5" y="45.5" width="9.0" height="9.0" fill="#000"/>
<rect x="178.4" y="35.9" width="9.0" height="9.0" fill="#000"/>
<rect x="185.1" y="34.7" width="9.0" height="9.0" fill="#000"/>
<rect x="190.9" y="34.7" width="9.0" height="9.0" fill="#000"/>
<rect x="196.7" y="34.7" width="9.0" height="9.0" fill="#000"/>
<rect x="203.5" y="34.7" width="9.0" height="9.0" fill="#000"/>
<rect x="215.3" y="34.0" width="9.0" height="9.0" fill="#000"/>
<rect x="222.5" y="37.0" width="9.0" height="9.0" fill="#000"/>
<rect x="229.5" y="38.2" width="9.0" height="9.0" fill="#000"/>
<text x="145.3" y="130.9" font-size="11.5" textLength="35.8" lengthAdjust="spacing">Injection</text>
<line x1="151.5" y1="137" x2="151.5" y2="156" stroke="#000" stroke-width="1.2" stroke-linecap="butt"/>
<path d="M151.5,162 L148.3,153.5 L154.7,153.5Z" fill="#000"/>
<text x="234.2" y="155.3" font-size="21" text-anchor="middle">*</text>
<line x1="268.2" y1="60.4" x2="305.7" y2="60.4" stroke="#000" stroke-width="3" stroke-linecap="butt"/>
<rect x="282.1" y="55.199999999999996" width="10.8" height="10.4" fill="#000"/>
<text x="310.7" y="65.0" font-size="13" textLength="55" lengthAdjust="spacingAndGlyphs">Control Ig</text>
<line x1="268.2" y1="81" x2="305.7" y2="81" stroke="#000" stroke-width="3" stroke-linecap="butt"/>
<rect x="282.7" y="76.3" width="9.6" height="9.6" fill="none" stroke="#000" stroke-width="1.2"/>
<text x="310.7" y="85.6" font-size="13" textLength="129" lengthAdjust="spacingAndGlyphs">Control Ig + Anti-FasL</text>
<line x1="268.2" y1="103.6" x2="305.7" y2="103.6" stroke="#000" stroke-width="3" stroke-linecap="butt"/>
<path d="M288,97.6 L294.4,109.8 L281.6,109.8Z" fill="#000"/>
<text x="310.7" y="108.19999999999999" font-size="13">Anti-CD137</text>
<line x1="268.2" y1="127.4" x2="305.7" y2="127.4" stroke="#000" stroke-width="3" stroke-linecap="butt"/>
<path d="M287.2,121.80000000000001 L293,133.8 L281.4,133.8Z" fill="none" stroke="#000" stroke-width="1.3"/>
<text x="310.7" y="132.0" font-size="13" textLength="142" lengthAdjust="spacingAndGlyphs">Anti-CD137 + Anti-FasL</text>
<text x="0.3" y="245" font-size="24" font-weight="bold">B</text>
<text x="0.2" y="492.6" font-size="25" font-weight="bold">C</text>
<line x1="73.4" y1="294" x2="73.4" y2="283" stroke="#111" stroke-width="1.1" stroke-linecap="butt"/>
<line x1="64.65" y1="283" x2="82.15" y2="283" stroke="#111" stroke-width="1.1" stroke-linecap="butt"/>
<rect x="56.800000000000004" y="294.3" width="33.199999999999996" height="95.2" fill="#fff" stroke="#000" stroke-width="2.6"/>
<line x1="123.6" y1="283.5" x2="123.6" y2="279.5" stroke="#111" stroke-width="1.1" stroke-linecap="butt"/>
<line x1="114.85" y1="279.5" x2="132.35" y2="279.5" stroke="#111" stroke-width="1.1" stroke-linecap="butt"/>
<rect x="105.69999999999999" y="282.5" width="35.8" height="107.0" fill="#000"/>
<line x1="174" y1="374.5" x2="174" y2="373.5" stroke="#111" stroke-width="1.1" stroke-linecap="butt"/>
<line x1="165.25" y1="373.5" x2="182.75" y2="373.5" stroke="#111" stroke-width="1.1" stroke-linecap="butt"/>
<rect x="157.4" y="374.8" width="33.199999999999996" height="14.7" fill="#fff" stroke="#000" stroke-width="2.6"/>
<line x1="224" y1="288.5" x2="224" y2="286.5" stroke="#111" stroke-width="1.1" stroke-linecap="butt"/>
<line x1="215.25" y1="286.5" x2="232.75" y2="286.5" stroke="#111" stroke-width="1.1" stroke-linecap="butt"/>
<rect x="206.1" y="287.5" width="35.8" height="102.0" fill="#000"/>
<line x1="48" y1="255.4" x2="48" y2="390.75" stroke="#000" stroke-width="2.4" stroke-linecap="butt"/>
<line x1="46.8" y1="389.7" x2="250.5" y2="389.7" stroke="#000" stroke-width="3.1" stroke-linecap="butt"/>
<line x1="41.5" y1="256.5" x2="48" y2="256.5" stroke="#000" stroke-width="2.2" stroke-linecap="butt"/>
<text x="40.0" y="259.74" font-size="9" font-weight="bold" text-anchor="end">25</text>
<line x1="41.5" y1="283" x2="48" y2="283" stroke="#000" stroke-width="2.2" stroke-linecap="butt"/>
<text x="40.0" y="286.24" font-size="9" font-weight="bold" text-anchor="end">20</text>
<line x1="41.5" y1="309.5" x2="48" y2="309.5" stroke="#000" stroke-width="2.2" stroke-linecap="butt"/>
<text x="40.0" y="312.74" font-size="9" font-weight="bold" text-anchor="end">15</text>
<line x1="41.5" y1="336" x2="48" y2="336" stroke="#000" stroke-width="2.2" stroke-linecap="butt"/>
<text x="40.0" y="339.24" font-size="9" font-weight="bold" text-anchor="end">10</text>
<line x1="41.5" y1="362.5" x2="48" y2="362.5" stroke="#000" stroke-width="2.2" stroke-linecap="butt"/>
<text x="40.0" y="365.74" font-size="9" font-weight="bold" text-anchor="end">5</text>
<line x1="41.5" y1="389.5" x2="48" y2="389.5" stroke="#000" stroke-width="2.2" stroke-linecap="butt"/>
<text x="40.0" y="392.74" font-size="9" font-weight="bold" text-anchor="end">0</text>
<line x1="73.4" y1="389.5" x2="73.4" y2="396.3" stroke="#000" stroke-width="2.4" stroke-linecap="butt"/>
<line x1="123.6" y1="389.5" x2="123.6" y2="396.3" stroke="#000" stroke-width="2.4" stroke-linecap="butt"/>
<line x1="174" y1="389.5" x2="174" y2="396.3" stroke="#000" stroke-width="2.4" stroke-linecap="butt"/>
<line x1="224" y1="389.5" x2="224" y2="396.3" stroke="#000" stroke-width="2.4" stroke-linecap="butt"/>
<text x="148.75" y="240.5" font-size="11" font-weight="bold" text-anchor="middle" textLength="21.3" lengthAdjust="spacing">IL-5</text>
<text x="21" y="323.5" font-size="10" font-weight="bold" text-anchor="middle" transform="rotate(-90 21 323.5)">pg/mL</text>
<text x="52" y="413.0" font-size="10" text-anchor="end" textLength="40.5" lengthAdjust="spacing">Control Ig</text>
<line x1="70.3" y1="409.5" x2="74.7" y2="409.5" stroke="#333" stroke-width="1" stroke-linecap="butt"/>
<line x1="72.5" y1="407.3" x2="72.5" y2="411.7" stroke="#333" stroke-width="1" stroke-linecap="butt"/>
<line x1="120.49999999999999" y1="409.5" x2="124.89999999999999" y2="409.5" stroke="#333" stroke-width="1" stroke-linecap="butt"/>
<line x1="122.69999999999999" y1="407.3" x2="122.69999999999999" y2="411.7" stroke="#333" stroke-width="1" stroke-linecap="butt"/>
<line x1="172.39999999999998" y1="410.3" x2="175.0" y2="410.3" stroke="#444" stroke-width="1" stroke-linecap="butt"/>
<line x1="222.39999999999998" y1="410.3" x2="225.0" y2="410.3" stroke="#444" stroke-width="1" stroke-linecap="butt"/>
<text x="52" y="429.5" font-size="10" text-anchor="end" textLength="49.5" lengthAdjust="spacing">Anti-CD137</text>
<line x1="71.80000000000001" y1="426.8" x2="74.4" y2="426.8" stroke="#444" stroke-width="1" stroke-linecap="butt"/>
<line x1="122.0" y1="426.8" x2="124.6" y2="426.8" stroke="#444" stroke-width="1" stroke-linecap="butt"/>
<line x1="170.9" y1="426" x2="175.29999999999998" y2="426" stroke="#333" stroke-width="1" stroke-linecap="butt"/>
<line x1="173.1" y1="423.8" x2="173.1" y2="428.2" stroke="#333" stroke-width="1" stroke-linecap="butt"/>
<line x1="220.9" y1="426" x2="225.29999999999998" y2="426" stroke="#333" stroke-width="1" stroke-linecap="butt"/>
<line x1="223.1" y1="423.8" x2="223.1" y2="428.2" stroke="#333" stroke-width="1" stroke-linecap="butt"/>
<text x="52" y="446.5" font-size="10" text-anchor="end" textLength="40.5" lengthAdjust="spacing">Anti-FasL</text>
<line x1="71.80000000000001" y1="443.8" x2="74.4" y2="443.8" stroke="#444" stroke-width="1" stroke-linecap="butt"/>
<line x1="120.49999999999999" y1="443" x2="124.89999999999999" y2="443" stroke="#333" stroke-width="1" stroke-linecap="butt"/>
<line x1="122.69999999999999" y1="440.8" x2="122.69999999999999" y2="445.2" stroke="#333" stroke-width="1" stroke-linecap="butt"/>
<line x1="172.39999999999998" y1="443.8" x2="175.0" y2="443.8" stroke="#444" stroke-width="1" stroke-linecap="butt"/>
<line x1="220.9" y1="443" x2="225.29999999999998" y2="443" stroke="#333" stroke-width="1" stroke-linecap="butt"/>
<line x1="223.1" y1="440.8" x2="223.1" y2="445.2" stroke="#333" stroke-width="1" stroke-linecap="butt"/>
<text x="224.5" y="282" font-size="21.5" text-anchor="middle">***</text>
<line x1="341" y1="342.8" x2="341" y2="335.7" stroke="#111" stroke-width="1.1" stroke-linecap="butt"/>
<line x1="332.25" y1="335.7" x2="349.75" y2="335.7" stroke="#111" stroke-width="1.1" stroke-linecap="butt"/>
<rect x="324.55" y="343.1" width="32.9" height="49.09999999999998" fill="#fff" stroke="#000" stroke-width="2.6"/>
<line x1="391" y1="343.5" x2="391" y2="337" stroke="#111" stroke-width="1.1" stroke-linecap="butt"/>
<line x1="382.25" y1="337" x2="399.75" y2="337" stroke="#111" stroke-width="1.1" stroke-linecap="butt"/>
<rect x="373.25" y="342.5" width="35.5" height="49.69999999999999" fill="#000"/>
<line x1="440.5" y1="373.2" x2="440.5" y2="370.8" stroke="#111" stroke-width="1.1" stroke-linecap="butt"/>
<line x1="431.75" y1="370.8" x2="449.25" y2="370.8" stroke="#111" stroke-width="1.1" stroke-linecap="butt"/>
<rect x="424.05" y="373.5" width="32.9" height="18.7" fill="#fff" stroke="#000" stroke-width="2.6"/>
<line x1="490.5" y1="295.3" x2="490.5" y2="279" stroke="#111" stroke-width="1.1" stroke-linecap="butt"/>
<line x1="481.75" y1="279" x2="499.25" y2="279" stroke="#111" stroke-width="1.1" stroke-linecap="butt"/>
<rect x="472.75" y="294.3" width="35.5" height="97.89999999999998" fill="#000"/>
<line x1="316.4" y1="260.09999999999997" x2="316.4" y2="393.45" stroke="#000" stroke-width="2.4" stroke-linecap="butt"/>
<line x1="315.2" y1="392.4" x2="515" y2="392.4" stroke="#000" stroke-width="3.1" stroke-linecap="butt"/>
<line x1="309.9" y1="261.2" x2="316.4" y2="261.2" stroke="#000" stroke-width="2.2" stroke-linecap="butt"/>
<text x="308.4" y="264.44" font-size="9" font-weight="bold" text-anchor="end">20</text>
<line x1="309.9" y1="293.7" x2="316.4" y2="293.7" stroke="#000" stroke-width="2.2" stroke-linecap="butt"/>
<text x="308.4" y="296.94" font-size="9" font-weight="bold" text-anchor="end">15</text>
<line x1="309.9" y1="326.5" x2="316.4" y2="326.5" stroke="#000" stroke-width="2.2" stroke-linecap="butt"/>
<text x="308.4" y="329.74" font-size="9" font-weight="bold" text-anchor="end">10</text>
<line x1="309.9" y1="359.6" x2="316.4" y2="359.6" stroke="#000" stroke-width="2.2" stroke-linecap="butt"/>
<text x="308.4" y="362.84000000000003" font-size="9" font-weight="bold" text-anchor="end">5</text>
<line x1="309.9" y1="392.2" x2="316.4" y2="392.2" stroke="#000" stroke-width="2.2" stroke-linecap="butt"/>
<text x="308.4" y="395.44" font-size="9" font-weight="bold" text-anchor="end">0</text>
<line x1="341" y1="392.2" x2="341" y2="399.0" stroke="#000" stroke-width="2.4" stroke-linecap="butt"/>
<line x1="391" y1="392.2" x2="391" y2="399.0" stroke="#000" stroke-width="2.4" stroke-linecap="butt"/>
<line x1="440.5" y1="392.2" x2="440.5" y2="399.0" stroke="#000" stroke-width="2.4" stroke-linecap="butt"/>
<line x1="490.5" y1="392.2" x2="490.5" y2="399.0" stroke="#000" stroke-width="2.4" stroke-linecap="butt"/>
<text x="415.75" y="245" font-size="11" font-weight="bold" text-anchor="middle" textLength="27.5" lengthAdjust="spacing">IL-13</text>
<text x="289.3" y="328.2" font-size="10" font-weight="bold" text-anchor="middle" transform="rotate(-90 289.3 328.2)">pg/mL</text>
<text x="321" y="413.5" font-size="10" text-anchor="end" textLength="40.5" lengthAdjust="spacing">Control Ig</text>
<line x1="337.90000000000003" y1="410" x2="342.3" y2="410" stroke="#333" stroke-width="1" stroke-linecap="butt"/>
<line x1="340.1" y1="407.8" x2="340.1" y2="412.2" stroke="#333" stroke-width="1" stroke-linecap="butt"/>
<line x1="387.90000000000003" y1="410" x2="392.3" y2="410" stroke="#333" stroke-width="1" stroke-linecap="butt"/>
<line x1="390.1" y1="407.8" x2="390.1" y2="412.2" stroke="#333" stroke-width="1" stroke-linecap="butt"/>
<line x1="438.9" y1="410.8" x2="441.5" y2="410.8" stroke="#444" stroke-width="1" stroke-linecap="butt"/>
<line x1="488.9" y1="410.8" x2="491.5" y2="410.8" stroke="#444" stroke-width="1" stroke-linecap="butt"/>
<text x="321" y="430.0" font-size="10" text-anchor="end" textLength="49.5" lengthAdjust="spacing">Anti-CD137</text>
<line x1="339.4" y1="427.3" x2="342.0" y2="427.3" stroke="#444" stroke-width="1" stroke-linecap="butt"/>
<line x1="389.4" y1="427.3" x2="392.0" y2="427.3" stroke="#444" stroke-width="1" stroke-linecap="butt"/>
<line x1="437.40000000000003" y1="426.5" x2="441.8" y2="426.5" stroke="#333" stroke-width="1" stroke-linecap="butt"/>
<line x1="439.6" y1="424.3" x2="439.6" y2="428.7" stroke="#333" stroke-width="1" stroke-linecap="butt"/>
<line x1="487.40000000000003" y1="426.5" x2="491.8" y2="426.5" stroke="#333" stroke-width="1" stroke-linecap="butt"/>
<line x1="489.6" y1="424.3" x2="489.6" y2="428.7" stroke="#333" stroke-width="1" stroke-linecap="butt"/>
<text x="321" y="447.0" font-size="10" text-anchor="end" textLength="40.5" lengthAdjust="spacing">Anti-FasL</text>
<line x1="339.4" y1="444.3" x2="342.0" y2="444.3" stroke="#444" stroke-width="1" stroke-linecap="butt"/>
<line x1="387.90000000000003" y1="443.5" x2="392.3" y2="443.5" stroke="#333" stroke-width="1" stroke-linecap="butt"/>
<line x1="390.1" y1="441.3" x2="390.1" y2="445.7" stroke="#333" stroke-width="1" stroke-linecap="butt"/>
<line x1="438.9" y1="444.3" x2="441.5" y2="444.3" stroke="#444" stroke-width="1" stroke-linecap="butt"/>
<line x1="487.40000000000003" y1="443.5" x2="491.8" y2="443.5" stroke="#333" stroke-width="1" stroke-linecap="butt"/>
<line x1="489.6" y1="441.3" x2="489.6" y2="445.7" stroke="#333" stroke-width="1" stroke-linecap="butt"/>
<text x="491.6" y="279" font-size="21.5" text-anchor="middle">**</text>
<line x1="73.9" y1="565" x2="73.9" y2="549.7" stroke="#111" stroke-width="1.1" stroke-linecap="butt"/>
<line x1="65.15" y1="549.7" x2="82.65" y2="549.7" stroke="#111" stroke-width="1.1" stroke-linecap="butt"/>
<rect x="57.300000000000004" y="565.3" width="33.199999999999996" height="73.80000000000003" fill="#fff" stroke="#000" stroke-width="2.6"/>
<line x1="123.8" y1="567" x2="123.8" y2="560.7" stroke="#111" stroke-width="1.1" stroke-linecap="butt"/>
<line x1="115.05" y1="560.7" x2="132.55" y2="560.7" stroke="#111" stroke-width="1.1" stroke-linecap="butt"/>
<rect x="105.9" y="566" width="35.8" height="73.10000000000002" fill="#000"/>
<line x1="174.05" y1="522.1" x2="174.05" y2="511.3" stroke="#111" stroke-width="1.1" stroke-linecap="butt"/>
<line x1="165.3" y1="511.3" x2="182.8" y2="511.3" stroke="#111" stroke-width="1.1" stroke-linecap="butt"/>
<rect x="157.45000000000002" y="522.4" width="33.199999999999996" height="116.7" fill="#fff" stroke="#000" stroke-width="2.6"/>
<line x1="223.7" y1="561.8" x2="223.7" y2="550.2" stroke="#111" stroke-width="1.1" stroke-linecap="butt"/>
<line x1="214.95" y1="550.2" x2="232.45" y2="550.2" stroke="#111" stroke-width="1.1" stroke-linecap="butt"/>
<rect x="205.79999999999998" y="560.8" width="35.8" height="78.30000000000007" fill="#000"/>
<line x1="48.6" y1="506.4" x2="48.6" y2="640.35" stroke="#000" stroke-width="2.4" stroke-linecap="butt"/>
<line x1="47.4" y1="639.3000000000001" x2="250.5" y2="639.3000000000001" stroke="#000" stroke-width="3.1" stroke-linecap="butt"/>
<line x1="44.4" y1="507.5" x2="48.6" y2="507.5" stroke="#000" stroke-width="2.2" stroke-linecap="butt"/>
<text x="43.9" y="510.92" font-size="9.5" font-weight="bold" text-anchor="end">30</text>
<line x1="44.4" y1="551.2" x2="48.6" y2="551.2" stroke="#000" stroke-width="2.2" stroke-linecap="butt"/>
<text x="43.9" y="554.62" font-size="9.5" font-weight="bold" text-anchor="end">20</text>
<line x1="44.4" y1="595.2" x2="48.6" y2="595.2" stroke="#000" stroke-width="2.2" stroke-linecap="butt"/>
<text x="43.9" y="598.62" font-size="9.5" font-weight="bold" text-anchor="end">10</text>
<line x1="44.4" y1="639.1" x2="48.6" y2="639.1" stroke="#000" stroke-width="2.2" stroke-linecap="butt"/>
<text x="43.9" y="642.52" font-size="9.5" font-weight="bold" text-anchor="end">0</text>
<line x1="73.9" y1="639.1" x2="73.9" y2="645.9" stroke="#000" stroke-width="2.4" stroke-linecap="butt"/>
<line x1="123.8" y1="639.1" x2="123.8" y2="645.9" stroke="#000" stroke-width="2.4" stroke-linecap="butt"/>
<line x1="174.05" y1="639.1" x2="174.05" y2="645.9" stroke="#000" stroke-width="2.4" stroke-linecap="butt"/>
<line x1="223.7" y1="639.1" x2="223.7" y2="645.9" stroke="#000" stroke-width="2.4" stroke-linecap="butt"/>
<text x="25.3" y="573.4" font-size="11" font-weight="bold" text-anchor="middle" textLength="98.6" lengthAdjust="spacingAndGlyphs" transform="rotate(-90 25.3 573.4)">% Annexin V<tspan font-size="7" dy="-4">+</tspan><tspan dy="4"> cells</tspan></text>
<text x="52.5" y="661.5" font-size="10" text-anchor="end" textLength="40.5" lengthAdjust="spacing">Control Ig</text>
<line x1="70.8" y1="658" x2="75.2" y2="658" stroke="#333" stroke-width="1" stroke-linecap="butt"/>
<line x1="73.0" y1="655.8" x2="73.0" y2="660.2" stroke="#333" stroke-width="1" stroke-linecap="butt"/>
<line x1="120.69999999999999" y1="658" x2="125.1" y2="658" stroke="#333" stroke-width="1" stroke-linecap="butt"/>
<line x1="122.89999999999999" y1="655.8" x2="122.89999999999999" y2="660.2" stroke="#333" stroke-width="1" stroke-linecap="butt"/>
<line x1="172.45" y1="658.8" x2="175.05" y2="658.8" stroke="#444" stroke-width="1" stroke-linecap="butt"/>
<line x1="222.09999999999997" y1="658.8" x2="224.7" y2="658.8" stroke="#444" stroke-width="1" stroke-linecap="butt"/>
<text x="52.5" y="680.5" font-size="10" text-anchor="end" textLength="49.5" lengthAdjust="spacing">Anti-CD137</text>
<line x1="72.30000000000001" y1="677.8" x2="74.9" y2="677.8" stroke="#444" stroke-width="1" stroke-linecap="butt"/>
<line x1="122.2" y1="677.8" x2="124.8" y2="677.8" stroke="#444" stroke-width="1" stroke-linecap="butt"/>
<line x1="170.95000000000002" y1="677" x2="175.35" y2="677" stroke="#333" stroke-width="1" stroke-linecap="butt"/>
<line x1="173.15" y1="674.8" x2="173.15" y2="679.2" stroke="#333" stroke-width="1" stroke-linecap="butt"/>
<line x1="220.6" y1="677" x2="224.99999999999997" y2="677" stroke="#333" stroke-width="1" stroke-linecap="butt"/>
<line x1="222.79999999999998" y1="674.8" x2="222.79999999999998" y2="679.2" stroke="#333" stroke-width="1" stroke-linecap="butt"/>
<text x="52.5" y="695.5" font-size="10" text-anchor="end" textLength="40.5" lengthAdjust="spacing">Anti-FasL</text>
<line x1="72.30000000000001" y1="692.8" x2="74.9" y2="692.8" stroke="#444" stroke-width="1" stroke-linecap="butt"/>
<line x1="120.69999999999999" y1="692" x2="125.1" y2="692" stroke="#333" stroke-width="1" stroke-linecap="butt"/>
<line x1="122.89999999999999" y1="689.8" x2="122.89999999999999" y2="694.2" stroke="#333" stroke-width="1" stroke-linecap="butt"/>
<line x1="172.45" y1="692.8" x2="175.05" y2="692.8" stroke="#444" stroke-width="1" stroke-linecap="butt"/>
<line x1="220.6" y1="692" x2="224.99999999999997" y2="692" stroke="#333" stroke-width="1" stroke-linecap="butt"/>
<line x1="222.79999999999998" y1="689.8" x2="222.79999999999998" y2="694.2" stroke="#333" stroke-width="1" stroke-linecap="butt"/>
<text x="225" y="546.5" font-size="21.5" text-anchor="middle">*</text>
<line x1="341.5" y1="626.3" x2="341.5" y2="624.2" stroke="#111" stroke-width="1.1" stroke-linecap="butt"/>
<line x1="332.75" y1="624.2" x2="350.25" y2="624.2" stroke="#111" stroke-width="1.1" stroke-linecap="butt"/>
<rect x="325.05" y="626.5999999999999" width="32.9" height="11.60000000000009" fill="#fff" stroke="#000" stroke-width="2.6"/>
<line x1="391" y1="605.5" x2="391" y2="595.5" stroke="#111" stroke-width="1.1" stroke-linecap="butt"/>
<line x1="382.25" y1="595.5" x2="399.75" y2="595.5" stroke="#111" stroke-width="1.1" stroke-linecap="butt"/>
<rect x="373.25" y="604.5" width="35.5" height="33.700000000000045" fill="#000"/>
<line x1="441" y1="541" x2="441" y2="524.5" stroke="#111" stroke-width="1.1" stroke-linecap="butt"/>
<line x1="432.25" y1="524.5" x2="449.75" y2="524.5" stroke="#111" stroke-width="1.1" stroke-linecap="butt"/>
<rect x="424.55" y="541.3" width="32.9" height="96.90000000000005" fill="#fff" stroke="#000" stroke-width="2.6"/>
<line x1="490.5" y1="584" x2="490.5" y2="579.5" stroke="#111" stroke-width="1.1" stroke-linecap="butt"/>
<line x1="481.75" y1="579.5" x2="499.25" y2="579.5" stroke="#111" stroke-width="1.1" stroke-linecap="butt"/>
<rect x="472.75" y="583" width="35.5" height="55.200000000000045" fill="#000"/>
<line x1="317.2" y1="505.9" x2="317.2" y2="639.45" stroke="#000" stroke-width="2.4" stroke-linecap="butt"/>
<line x1="316.0" y1="638.4000000000001" x2="516" y2="638.4000000000001" stroke="#000" stroke-width="3.1" stroke-linecap="butt"/>
<line x1="310.7" y1="507" x2="317.2" y2="507" stroke="#000" stroke-width="2.2" stroke-linecap="butt"/>
<text x="309.2" y="510.24" font-size="9" font-weight="bold" text-anchor="end">35</text>
<line x1="310.7" y1="525.7" x2="317.2" y2="525.7" stroke="#000" stroke-width="2.2" stroke-linecap="butt"/>
<text x="309.2" y="528.94" font-size="9" font-weight="bold" text-anchor="end">30</text>
<line x1="310.7" y1="544.5" x2="317.2" y2="544.5" stroke="#000" stroke-width="2.2" stroke-linecap="butt"/>
<text x="309.2" y="547.74" font-size="9" font-weight="bold" text-anchor="end">25</text>
<line x1="310.7" y1="563.3" x2="317.2" y2="563.3" stroke="#000" stroke-width="2.2" stroke-linecap="butt"/>
<text x="309.2" y="566.54" font-size="9" font-weight="bold" text-anchor="end">20</text>
<line x1="310.7" y1="582" x2="317.2" y2="582" stroke="#000" stroke-width="2.2" stroke-linecap="butt"/>
<text x="309.2" y="585.24" font-size="9" font-weight="bold" text-anchor="end">15</text>
<line x1="310.7" y1="600.8" x2="317.2" y2="600.8" stroke="#000" stroke-width="2.2" stroke-linecap="butt"/>
<text x="309.2" y="604.04" font-size="9" font-weight="bold" text-anchor="end">10</text>
<line x1="310.7" y1="619.6" x2="317.2" y2="619.6" stroke="#000" stroke-width="2.2" stroke-linecap="butt"/>
<text x="309.2" y="622.84" font-size="9" font-weight="bold" text-anchor="end">5</text>
<line x1="310.7" y1="638.2" x2="317.2" y2="638.2" stroke="#000" stroke-width="2.2" stroke-linecap="butt"/>
<text x="309.2" y="641.44" font-size="9" font-weight="bold" text-anchor="end">0</text>
<line x1="341.5" y1="638.2" x2="341.5" y2="645.0" stroke="#000" stroke-width="2.4" stroke-linecap="butt"/>
<line x1="391" y1="638.2" x2="391" y2="645.0" stroke="#000" stroke-width="2.4" stroke-linecap="butt"/>
<line x1="441" y1="638.2" x2="441" y2="645.0" stroke="#000" stroke-width="2.4" stroke-linecap="butt"/>
<line x1="490.5" y1="638.2" x2="490.5" y2="645.0" stroke="#000" stroke-width="2.4" stroke-linecap="butt"/>
<text x="291.7" y="570.3" font-size="11" font-weight="bold" text-anchor="middle" textLength="130" lengthAdjust="spacing" transform="rotate(-90 291.7 570.3)">Annexin V<tspan font-size="7" dy="-4">+</tspan><tspan dy="4"> cells (x10</tspan><tspan font-size="7" dy="-4">6</tspan><tspan dy="4">)</tspan></text>
<text x="321.25" y="662.0" font-size="10" text-anchor="end" textLength="40.5" lengthAdjust="spacing">Control Ig</text>
<line x1="338.40000000000003" y1="658.5" x2="342.8" y2="658.5" stroke="#333" stroke-width="1" stroke-linecap="butt"/>
<line x1="340.6" y1="656.3" x2="340.6" y2="660.7" stroke="#333" stroke-width="1" stroke-linecap="butt"/>
<line x1="387.90000000000003" y1="658.5" x2="392.3" y2="658.5" stroke="#333" stroke-width="1" stroke-linecap="butt"/>
<line x1="390.1" y1="656.3" x2="390.1" y2="660.7" stroke="#333" stroke-width="1" stroke-linecap="butt"/>
<line x1="439.4" y1="659.3" x2="442.0" y2="659.3" stroke="#444" stroke-width="1" stroke-linecap="butt"/>
<line x1="488.9" y1="659.3" x2="491.5" y2="659.3" stroke="#444" stroke-width="1" stroke-linecap="butt"/>
<text x="321.25" y="680.5" font-size="10" text-anchor="end" textLength="49.5" lengthAdjust="spacing">Anti-CD137</text>
<line x1="339.9" y1="677.8" x2="342.5" y2="677.8" stroke="#444" stroke-width="1" stroke-linecap="butt"/>
<line x1="389.4" y1="677.8" x2="392.0" y2="677.8" stroke="#444" stroke-width="1" stroke-linecap="butt"/>
<line x1="437.90000000000003" y1="677" x2="442.3" y2="677" stroke="#333" stroke-width="1" stroke-linecap="butt"/>
<line x1="440.1" y1="674.8" x2="440.1" y2="679.2" stroke="#333" stroke-width="1" stroke-linecap="butt"/>
<line x1="487.40000000000003" y1="677" x2="491.8" y2="677" stroke="#333" stroke-width="1" stroke-linecap="butt"/>
<line x1="489.6" y1="674.8" x2="489.6" y2="679.2" stroke="#333" stroke-width="1" stroke-linecap="butt"/>
<text x="321.25" y="695.0" font-size="10" text-anchor="end" textLength="40.5" lengthAdjust="spacing">Anti-FasL</text>
<line x1="339.9" y1="692.3" x2="342.5" y2="692.3" stroke="#444" stroke-width="1" stroke-linecap="butt"/>
<line x1="387.90000000000003" y1="691.5" x2="392.3" y2="691.5" stroke="#333" stroke-width="1" stroke-linecap="butt"/>
<line x1="390.1" y1="689.3" x2="390.1" y2="693.7" stroke="#333" stroke-width="1" stroke-linecap="butt"/>
<line x1="439.4" y1="692.3" x2="442.0" y2="692.3" stroke="#444" stroke-width="1" stroke-linecap="butt"/>
<line x1="487.40000000000003" y1="691.5" x2="491.8" y2="691.5" stroke="#333" stroke-width="1" stroke-linecap="butt"/>
<line x1="489.6" y1="689.3" x2="489.6" y2="693.7" stroke="#333" stroke-width="1" stroke-linecap="butt"/>
<text x="490.5" y="575" font-size="21.5" text-anchor="middle">*</text>
</svg>
</body></html>
